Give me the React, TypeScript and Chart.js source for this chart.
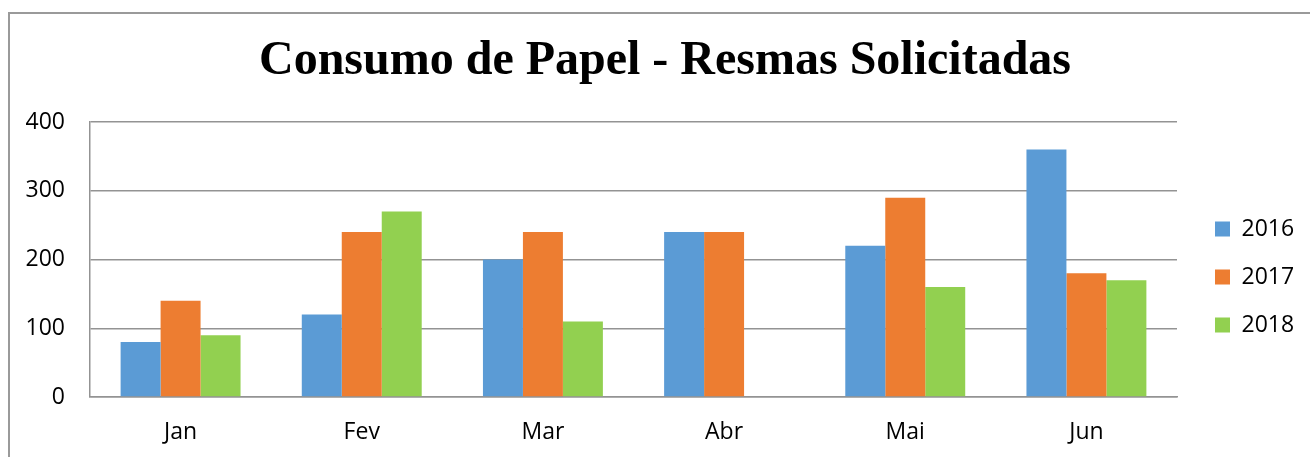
import React, { useEffect, useRef } from "react";
import { Chart, registerables } from "chart.js";

Chart.register(...registerables);

const TITLE = "Consumo de Papel - Resmas Solicitadas";
const categories = ["Jan", "Fev", "Mar", "Abr", "Mai", "Jun"];
const seriesLabels = ["2016", "2017", "2018"];
const values2016 = [80, 120, 200, 240, 220, 360];
const values2017 = [140, 240, 240, 240, 290, 180];
const values2018 = [90, 270, 110, null, 160, 170];
const seriesColors = ["#5B9BD5", "#ED7D31", "#92D050"];
const yTicks = [0, 100, 200, 300, 400];

const W = 1302;
const H = 449;
const GRID = "#939393";
const SANS = "'Open Sans', 'Liberation Sans', sans-serif";

const legendPlacer = {
  id: "legendPlacer",
  afterLayout(chart: any) {
    const lg = chart.legend;
    if (!lg) return;
    const left = 1182;
    const top = 184.5;
    lg.left = left;
    lg.right = W;
    lg.width = W - left;
    lg.top = top;
    lg.height = 200;
    lg.bottom = top + 200;
  },
};

export default function App() {
  const ref = useRef<HTMLCanvasElement | null>(null);

  useEffect(() => {
    if (!ref.current) return;
    const data = [values2016, values2017, values2018];
    const chart = new Chart(ref.current, {
      type: "bar",
      data: {
        labels: categories,
        datasets: seriesLabels.map((label, i) => ({
          label,
          data: data[i],
          backgroundColor: seriesColors[i],
          borderWidth: 0,
          categoryPercentage: 0.662,
          barPercentage: 1,
          yAxisID: "y",
        })),
      },
      options: {
        animation: false,
        responsive: false,
        devicePixelRatio: 1,
        layout: { padding: { left: 16, right: 4, top: 0, bottom: 0 } },
        plugins: {
          tooltip: { enabled: false },
          title: {
            display: true,
            text: TITLE,
            color: "#000",
            font: {
              family: "'Liberation Serif', 'Times New Roman', serif",
              size: 48,
              weight: "bold",
              lineHeight: 1.2,
            },
            padding: { top: 25, bottom: 31.4 },
          },
          legend: {
            display: true,
            position: "right",
            align: "start",
            maxWidth: 100,
            labels: {
              color: "#000",
              font: { family: SANS, size: 23 },
              boxWidth: 15,
              boxHeight: 15,
              padding: 25,
            },
          },
        },
        scales: {
          x: {
            grid: { display: false, drawTicks: false },
            border: { display: true, color: GRID, width: 1.5 },
            ticks: {
              color: "#000",
              font: { family: SANS, size: 23 },
              padding: 22,
              maxRotation: 0,
            },
            afterFit: (scale: any) => {
              scale.height = 60;
            },
          },
          y: {
            min: yTicks[0],
            max: yTicks[yTicks.length - 1],
            grid: { color: GRID, lineWidth: 1.5, drawTicks: false },
            border: { display: true, color: GRID, width: 1.5 },
            ticks: {
              stepSize: yTicks[1] - yTicks[0],
              color: "#000",
              font: { family: SANS, size: 23 },
              padding: 25,
            },
            afterFit: (scale: any) => {
              scale.width = 66;
            },
          },
          gap: {
            type: "linear",
            position: "right",
            display: true,
            grid: { display: false, drawTicks: false },
            border: { display: false },
            ticks: { display: false },
            afterFit: (scale: any) => {
              scale.width = 29;
            },
          },
        },
      },
      plugins: [legendPlacer],
    } as any);
    return () => chart.destroy();
  }, []);

  return (
    <div
      style={{
        position: "fixed",
        left: 0,
        top: 0,
        width: 1310,
        height: 457,
        overflow: "hidden",
        background: "#fff",
      }}
    >
      <div
        style={{
          position: "absolute",
          left: 8,
          top: 12,
          width: 1400,
          height: 600,
          borderLeft: "2px solid #9a9a9a",
          borderTop: "2px solid #9a9a9a",
        }}
      />
      <canvas
        ref={ref}
        width={W}
        height={H}
        style={{ position: "absolute", left: 8, top: 8, width: W, height: H }}
      />
    </div>
  );
}
